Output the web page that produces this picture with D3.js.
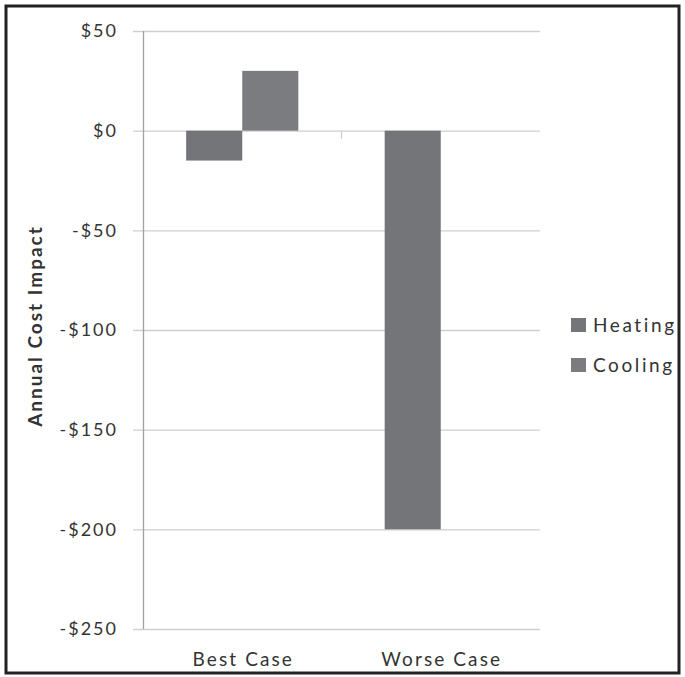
<!DOCTYPE html>
<html>
<head>
<meta charset="utf-8">
<script src="https://cdn.jsdelivr.net/npm/d3@7"></script>
<style>
  html, body { margin: 0; padding: 0; background: #fff; }
  svg { display: block; }
  text { font-family: Lato, "Open Sans", sans-serif; fill: #333; }
</style>
</head>
<body>
<svg id="chart" width="685" height="677"></svg>
<script>
// Annual cost impact by scenario
const categories = ["Best Case", "Worse Case"];
const seriesNames = ["Heating", "Cooling"];
const heating = [-15, -200];
const cooling = [30, 0];
const yTicks = [50, 0, -50, -100, -150, -200, -250];
const colors = ["#747579", "#7b7c80"];

const W = 685, H = 677;
const svg = d3.select("#chart");

// outer frame
svg.append("rect")
  .attr("x", 6).attr("y", 6)
  .attr("width", W - 12).attr("height", H - 10)
  .attr("fill", "#fff").attr("stroke", "#222").attr("stroke-width", 3);

const y = d3.scaleLinear().domain([-250, 50]).range([629, 31]);
const x0 = d3.scaleBand().domain(categories).range([143, 540]).paddingInner(0).paddingOuter(0);
const x1 = d3.scaleBand().domain(seriesNames).range([0, x0.bandwidth()]).paddingInner(0).paddingOuter(0.77);

// gridlines with left ticks
const yAxis = d3.axisLeft(y).tickValues(yTicks)
  .tickSize(-(540 - 133)).tickPadding(15)
  .tickFormat(d => (d < 0 ? "-$" : "$") + Math.abs(d));
const gy = svg.append("g").attr("transform", "translate(133,0)").call(yAxis);
gy.select(".domain").remove();
gy.selectAll(".tick line").attr("stroke", "#cfcfcf").attr("stroke-width", 1.3);
gy.selectAll(".tick text").attr("font-size", 18).attr("fill", "#3a3a3a")
  .attr("letter-spacing", 2)
  .attr("font-family", "Lato, sans-serif");

// vertical axis line
svg.append("line")
  .attr("x1", 143.5).attr("x2", 143.5).attr("y1", y(50)).attr("y2", y(-250))
  .attr("stroke", "#a0a0a0").attr("stroke-width", 1.3);

const rows = categories.map((c, i) => ({ cat: c, values: [heating[i], cooling[i]] }));

// bars
const groups = svg.append("g").selectAll("g").data(rows).join("g")
  .attr("transform", d => `translate(${x0(d.cat)},0)`);
groups.selectAll("rect")
  .data(d => d.values.map((v, j) => ({ key: seriesNames[j], value: v, j })))
  .join("rect")
  .attr("x", d => x1(d.key))
  .attr("width", x1.bandwidth())
  .attr("y", d => y(Math.max(0, d.value)))
  .attr("height", d => Math.abs(y(d.value) - y(0)))
  .attr("fill", d => colors[d.j]);

// separator tick between categories on the zero line
svg.append("line")
  .attr("x1", x0("Worse Case")).attr("x2", x0("Worse Case"))
  .attr("y1", y(0)).attr("y2", y(0) + 8)
  .attr("stroke", "#cfcfcf").attr("stroke-width", 1.3);

// category labels
svg.append("g").selectAll("text").data(categories).join("text")
  .attr("x", d => x0(d) + x0.bandwidth() / 2 + 1)
  .attr("y", 666)
  .attr("text-anchor", "middle")
  .attr("font-size", 19)
  .attr("letter-spacing", 2.1)
  .text(d => d);

// y axis title
svg.append("text")
  .attr("transform", "translate(42,326) rotate(-90)")
  .attr("text-anchor", "middle")
  .attr("font-size", 19)
  .attr("font-weight", "bold")
  .attr("letter-spacing", 2)
  .attr("fill", "#222")
  .text("Annual Cost Impact");

// legend
const legend = svg.append("g").selectAll("g").data(seriesNames).join("g")
  .attr("transform", (d, i) => `translate(571,${318 + i * 40})`);
legend.append("rect").attr("width", 15).attr("height", 14)
  .attr("fill", (d, i) => colors[i]);
legend.append("text").attr("x", 22).attr("y", 14)
  .attr("font-size", 19).attr("letter-spacing", 2.6)
  .text(d => d);
</script>
</body>
</html>
